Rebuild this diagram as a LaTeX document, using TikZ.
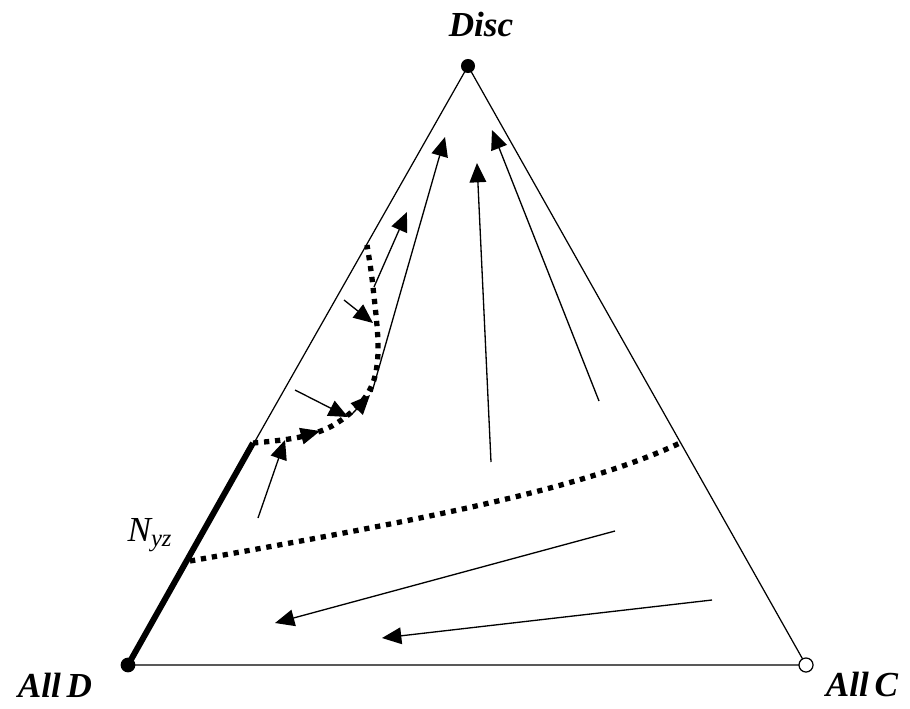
\documentclass[tikz,border=0pt]{standalone}
\usepackage{fontspec}
\setmainfont{Liberation Serif}
\usetikzlibrary{arrows.meta}

\begin{document}
\begin{tikzpicture}[x=0.02cm, y=-0.02cm, >={Triangle[length=11pt, width=9.5pt]},
    flow/.style={->, line width=0.75pt},
    border/.style={line width=3pt, dash pattern=on 3pt off 3.3pt},
    lbl/.style={font=\fontsize{20}{24}\selectfont\bfseries\itshape}]

    \useasboundingbox (0,0) rectangle (910,708);

    % 1. Dinh tam giac
    \coordinate (D) at (128,665);
    \coordinate (C) at (806,665);
    \coordinate (S) at (468,66);
    \coordinate (N) at (253,443);

    % 2. Canh tam giac va doan N_yz
    \draw[line width=0.7pt] (D) -- (C) -- (S) -- cycle;
    \draw[line width=3.4pt] (D) -- (N);

    % 3. Duong bien (net cham)
    \draw[border] (190,561) .. controls (420,520) and (580,490) .. (680,443);
    \draw[border] plot[smooth, tension=0.6] coordinates
        {(N) (300,437) (337,423) (368,393) (378,353) (373,287) (367,245)};

    % 4. Mui ten phia tren
    \draw[flow] (258,518) -- (285,440);
    \draw[flow] (298,437) -- (320,431);
    \draw[flow] (295,390) -- (348,417);
    \draw[flow] (352,414) -- (370,395);
    \draw[flow] (344,300) -- (373,323);
    \draw[flow] (374,287) -- (407,212);
    \draw[flow] (372,392) -- (445,137);
    \draw[flow] (491,462) -- (477,163);
    \draw[flow] (599,401) -- (492,130);

    % 5. Mui ten phia duoi
    \draw[flow] (615,531) -- (275,623);
    \draw[flow] (712,600) -- (382,638);

    % 6. Cac diem dinh
    \fill (D) circle (4.2pt);
    \fill (S) circle (4pt);
    \draw[line width=0.7pt, fill=white] (C) circle (4pt);

    % 7. Nhan
    \node[lbl] at (481,24) {Disc};
    \node[lbl] at (55,685) {All\,D};
    \node[lbl] at (862,684) {All\,C};
    \node[font=\fontsize{20}{23}\selectfont\itshape] at (150,535) {N\textsubscript{yz}};

\end{tikzpicture}
\end{document}
